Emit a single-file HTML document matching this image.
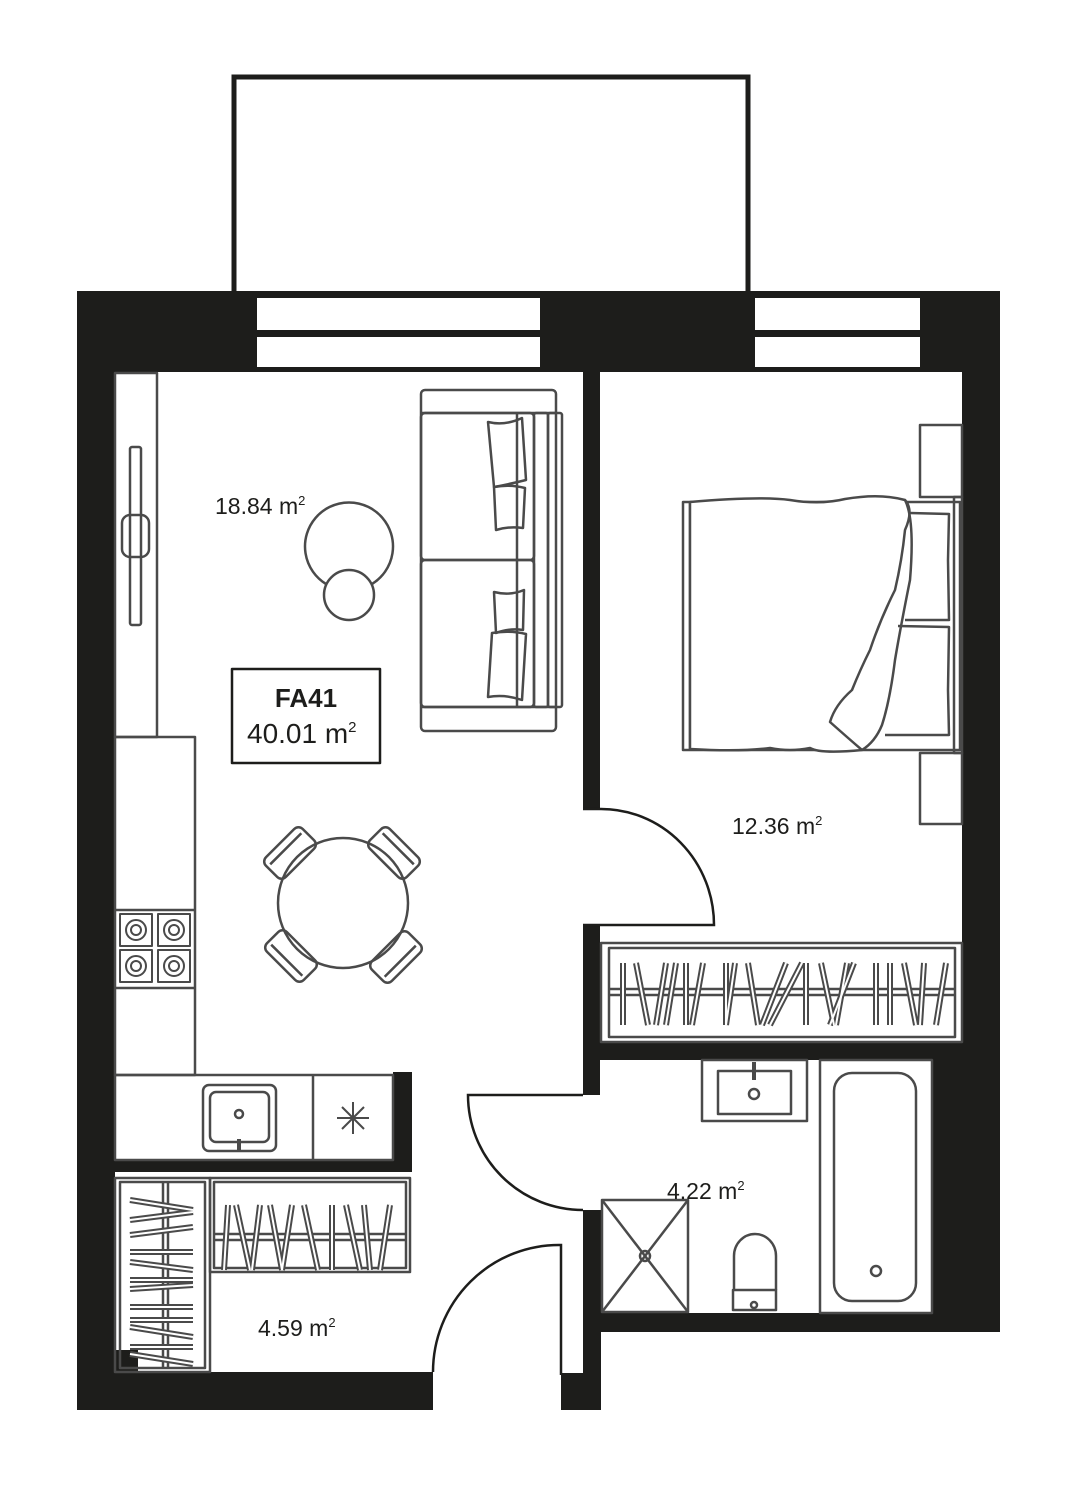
<!DOCTYPE html>
<html><head><meta charset="utf-8"><style>
html,body{margin:0;padding:0;background:#fff;}
svg{display:block;}
text{font-family:"Liberation Sans",sans-serif;fill:#1d1d1b;}
</style></head><body>
<svg width="1076" height="1486" viewBox="0 0 1076 1486" xmlns="http://www.w3.org/2000/svg">
<!-- balcony -->
<rect x="234" y="77" width="514" height="220" fill="none" stroke="#1d1d1b" stroke-width="5"/>
<!-- walls -->
<g fill="#1d1d1b">
<rect x="77" y="291" width="923" height="81"/>
<rect x="77" y="291" width="38" height="1119"/>
<rect x="962" y="291" width="38" height="770"/>
<rect x="932" y="1060" width="68" height="272"/>
<rect x="600" y="1313" width="400" height="19"/>
<rect x="583" y="372" width="17" height="437"/>
<rect x="583" y="925" width="17" height="170"/>
<rect x="583" y="1042" width="379" height="18"/>
<rect x="583" y="1210" width="18" height="200"/>
<rect x="561" y="1373" width="40" height="37"/>
<rect x="77" y="1372" width="356" height="38"/>
<rect x="115" y="1350" width="23" height="25"/>
<rect x="393" y="1072" width="19" height="100"/>
<rect x="115" y="1160" width="297" height="12"/>
</g>
<!-- windows -->
<g fill="#fff">
<rect x="257" y="298" width="283" height="32"/>
<rect x="257" y="337" width="283" height="30"/>
<rect x="755" y="298" width="165" height="32"/>
<rect x="755" y="337" width="165" height="30"/>
</g>
<g fill="none" stroke="#4a4a4a" stroke-width="2.5" stroke-linejoin="round">
<rect x="115" y="373" width="42" height="364"/>
<rect x="130" y="447" width="11" height="178" rx="2"/>
<rect x="122" y="515" width="27" height="42" rx="8"/>
<rect x="421" y="390" width="135" height="341" rx="4"/>
<line x1="421" y1="413" x2="556" y2="413"/>
<line x1="421" y1="707" x2="556" y2="707"/>
<rect x="421" y="413" width="113" height="147" rx="4"/>
<rect x="421" y="560" width="113" height="147" rx="4"/>
<rect x="534" y="413" width="14" height="294" rx="2"/>
<rect x="548" y="413" width="14" height="294" rx="2"/>
<line x1="517" y1="413" x2="517" y2="707"/>
<path d="M488,422 Q505,426 522,418 L526,480 Q510,484 494,487 Z"/>
<path d="M494,487 Q510,484 525,488 L523,528 Q509,526 496,530 Z"/>
<path d="M494,592 Q510,596 524,590 L523,630 Q509,628 496,633 Z"/>
<path d="M492,633 Q510,630 526,634 L522,700 Q505,694 488,697 Z"/>
<path d="M326,584 A44,44 0 1 1 372,584"/>
<circle cx="349" cy="595" r="25"/>
<rect x="232" y="669" width="148" height="94" stroke="#1d1d1b" stroke-width="2.5"/>
<rect x="115" y="737" width="80" height="338"/>
<line x1="115" y1="910" x2="195" y2="910"/>
<line x1="115" y1="988" x2="195" y2="988"/>
<rect x="115" y="1075" width="278" height="85"/>
<line x1="313" y1="1075" x2="313" y2="1160"/>
<rect x="203" y="1085" width="73" height="66" rx="6"/>
<rect x="210" y="1092" width="59" height="50" rx="6"/>
<circle cx="239" cy="1114" r="4"/>
<line x1="239" y1="1139" x2="239" y2="1151" stroke-width="4"/>
<g stroke-width="2">
<rect x="120" y="914" width="32" height="32"/><circle cx="136" cy="930" r="10"/><circle cx="136" cy="930" r="5"/>
<rect x="158" y="914" width="32" height="32"/><circle cx="174" cy="930" r="10"/><circle cx="174" cy="930" r="5"/>
<rect x="120" y="950" width="32" height="32"/><circle cx="136" cy="966" r="10"/><circle cx="136" cy="966" r="5"/>
<rect x="158" y="950" width="32" height="32"/><circle cx="174" cy="966" r="10"/><circle cx="174" cy="966" r="5"/>
</g>
<g stroke-width="2">
<line x1="353" y1="1102" x2="353" y2="1134"/><line x1="337" y1="1118" x2="369" y2="1118"/>
<line x1="342" y1="1107" x2="364" y2="1129"/><line x1="364" y1="1107" x2="342" y2="1129"/>
</g>
<circle cx="343" cy="903" r="65"/>
<g transform="translate(290,853) rotate(-45)"><rect x="-26" y="-14" width="52" height="28" rx="6"/><line x1="-22" y1="-6" x2="22" y2="-6"/></g>
<g transform="translate(394,853) rotate(45)"><rect x="-26" y="-14" width="52" height="28" rx="6"/><line x1="-22" y1="-6" x2="22" y2="-6"/></g>
<g transform="translate(291,956) rotate(45)"><rect x="-26" y="-14" width="52" height="28" rx="6"/><line x1="-22" y1="6" x2="22" y2="6"/></g>
<g transform="translate(396,957) rotate(-45)"><rect x="-26" y="-14" width="52" height="28" rx="6"/><line x1="-22" y1="6" x2="22" y2="6"/></g>
<rect x="920" y="425" width="42" height="72"/>
<rect x="920" y="753" width="42" height="71"/>
<rect x="683" y="502" width="277" height="248"/>
<line x1="690" y1="502" x2="690" y2="750"/>
<rect x="954" y="497" width="8" height="256"/>
<path d="M910,513 L949,514 L948,560 L949,620 L905,620"/>
<path d="M898,626 L949,627 L948,690 L949,735 L885,735"/>
<path fill="#fff" d="M690,502 Q760,496 790,500 Q820,505 845,499 Q880,493 905,500 Q914,510 905,530 Q902,560 895,590 Q880,620 870,650 Q860,670 852,690 Q835,705 830,722 Q848,738 862,750 Q820,754 810,748 Q790,752 770,748 Q740,752 690,749 Z"/>
<path d="M905,500 Q915,520 910,580 Q900,630 895,660 Q890,700 882,725 Q875,742 862,750"/>
<rect x="601" y="943" width="361" height="99"/>
<rect x="609" y="948" width="346" height="89"/>
<line x1="609" y1="989" x2="955" y2="989"/>
<line x1="609" y1="995" x2="955" y2="995"/>
<rect x="702" y="1060" width="105" height="61"/>
<rect x="718" y="1071" width="73" height="43"/>
<line x1="754" y1="1062" x2="754" y2="1080" stroke-width="4"/>
<circle cx="754" cy="1094" r="5"/>
<rect x="820" y="1060" width="112" height="253"/>
<rect x="834" y="1073" width="82" height="228" rx="18"/>
<circle cx="876" cy="1271" r="5"/>
<rect x="602" y="1200" width="86" height="112"/>
<line x1="602" y1="1200" x2="688" y2="1312"/>
<line x1="688" y1="1200" x2="602" y2="1312"/>
<circle cx="645" cy="1256" r="5"/>
<path d="M734,1290 L734,1256 A21,22 0 0 1 776,1256 L776,1290"/>
<rect x="733" y="1290" width="43" height="20"/>
<circle cx="754" cy="1305" r="3"/>
<rect x="115" y="1178" width="95" height="194"/>
<rect x="120" y="1182" width="85" height="186"/>
<line x1="163" y1="1182" x2="163" y2="1368"/>
<line x1="168" y1="1182" x2="168" y2="1368"/>
<rect x="210" y="1178" width="200" height="94"/>
<rect x="214" y="1182" width="192" height="86"/>
<line x1="214" y1="1234" x2="406" y2="1234"/>
<line x1="214" y1="1240" x2="406" y2="1240"/>
</g>
<g fill="none" stroke="#1d1d1b" stroke-width="2.5">
<path d="M583,809 L600,809 A113,116 0 0 1 714,925 L583,925"/>
<path d="M583,1095 L468,1095 A115,115 0 0 0 583,1210"/>
<path d="M433,1372 A126,127 0 0 1 561,1245 L561,1375"/>
</g>
<defs>
<g id="hb">
<line x1="623" y1="963" x2="623" y2="1025"/><line x1="636" y1="963" x2="648" y2="1025"/>
<line x1="666" y1="963" x2="656" y2="1025"/><line x1="676" y1="963" x2="666" y2="1025"/>
<line x1="686" y1="963" x2="686" y2="1025"/><line x1="703" y1="963" x2="692" y2="1025"/>
<line x1="726" y1="963" x2="726" y2="1025"/><line x1="735" y1="963" x2="726" y2="1025"/>
<line x1="748" y1="963" x2="758" y2="1025"/><line x1="786" y1="963" x2="762" y2="1025"/>
<line x1="802" y1="963" x2="770" y2="1025"/><line x1="806" y1="963" x2="806" y2="1025"/>
<line x1="821" y1="963" x2="834" y2="1025"/><line x1="847" y1="963" x2="836" y2="1025"/>
<line x1="854" y1="963" x2="830" y2="1025"/><line x1="876" y1="963" x2="876" y2="1025"/>
<line x1="890" y1="963" x2="890" y2="1025"/><line x1="904" y1="963" x2="916" y2="1025"/>
<line x1="924" y1="963" x2="920" y2="1025"/><line x1="946" y1="963" x2="936" y2="1025"/>
<line x1="228" y1="1205" x2="224" y2="1270"/><line x1="236" y1="1205" x2="250" y2="1270"/>
<line x1="260" y1="1205" x2="252" y2="1270"/><line x1="270" y1="1205" x2="282" y2="1270"/>
<line x1="292" y1="1205" x2="282" y2="1270"/><line x1="304" y1="1205" x2="318" y2="1270"/>
<line x1="332" y1="1205" x2="332" y2="1270"/><line x1="346" y1="1205" x2="360" y2="1270"/>
<line x1="364" y1="1205" x2="370" y2="1270"/><line x1="390" y1="1205" x2="380" y2="1270"/>
<line x1="130" y1="1200" x2="193" y2="1210"/><line x1="130" y1="1220" x2="193" y2="1212"/>
<line x1="130" y1="1235" x2="193" y2="1227"/><line x1="130" y1="1252" x2="193" y2="1252"/>
<line x1="130" y1="1262" x2="193" y2="1270"/><line x1="130" y1="1280" x2="193" y2="1280"/>
<line x1="130" y1="1289" x2="193" y2="1285"/><line x1="130" y1="1307" x2="193" y2="1307"/>
<line x1="130" y1="1320" x2="193" y2="1320"/><line x1="130" y1="1327" x2="193" y2="1337"/>
<line x1="130" y1="1347" x2="193" y2="1347"/><line x1="130" y1="1354" x2="193" y2="1364"/>
</g>
</defs>
<use href="#hb" stroke="#4a4a4a" stroke-width="6"/>
<use href="#hb" stroke="#fff" stroke-width="2"/>
<text x="215" y="514" font-size="23">18.84 m<tspan font-size="13" dy="-9">2</tspan></text>
<text x="306" y="707" font-size="26" font-weight="bold" text-anchor="middle">FA41</text>
<text x="247" y="743" font-size="28">40.01 m<tspan font-size="15" dy="-11">2</tspan></text>
<text x="732" y="834" font-size="23">12.36 m<tspan font-size="13" dy="-9">2</tspan></text>
<text x="667" y="1199" font-size="23">4.22 m<tspan font-size="13" dy="-9">2</tspan></text>
<text x="258" y="1336" font-size="23">4.59 m<tspan font-size="13" dy="-9">2</tspan></text>
</svg>
</body></html>
